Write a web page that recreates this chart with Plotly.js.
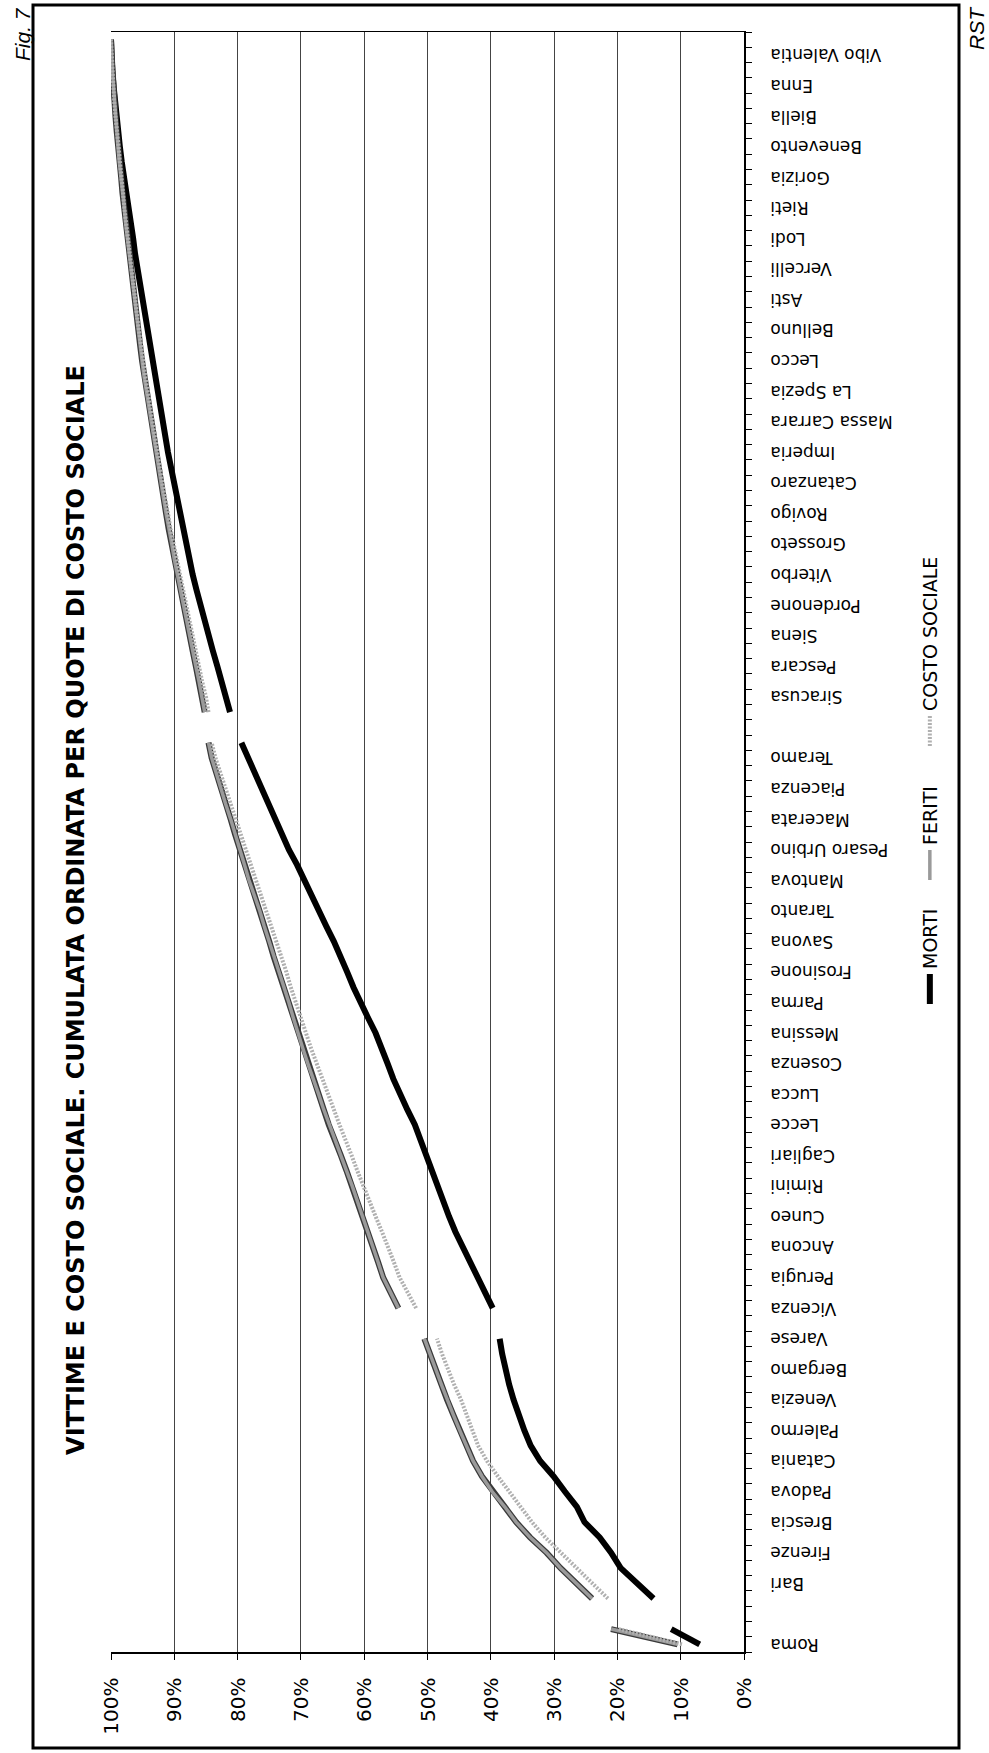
<!DOCTYPE html>
<html>
<head>
<meta charset="utf-8">
<script src="https://cdn.plot.ly/plotly-3.0.1.min.js"></script>
<style>
  html, body { margin:0; padding:0; background:#fff; overflow:hidden; }
  #wrap { position:absolute; left:0; top:0; width:1753px; height:989px;
          transform-origin:0 0; transform: translate(0px, 1753px) rotate(-90deg); }
  #chart { width:1753px; height:989px; }
</style>
</head>
<body>
<div id="wrap"><div id="chart"></div></div>
<script>
// Category labels shown on the axis (every other province, '' = blank row)
const shownLabels = ["Roma","","Bari","Firenze","Brescia","Padova","Catania","Palermo","Venezia","Bergamo",
  "Varese","Vicenza","Perugia","Ancona","Cuneo","Rimini","Cagliari","Lecce","Lucca","Cosenza",
  "Messina","Parma","Frosinone","Savona","Taranto","Mantova","Pesaro Urbino","Macerata","Piacenza","Teramo",
  "","Siracusa","Pescara","Siena","Pordenone","Viterbo","Grosseto","Rovigo","Catanzaro","Imperia",
  "Massa Carrara","La Spezia","Lecco","Belluno","Asti","Vercelli","Lodi","Rieti","Gorizia","Benevento",
  "Biella","Enna","Vibo Valentia"];

// Cumulative shares (%) per category position (null = break in the lines)
const morti = [7.0,11.5,null,14.3,17.0,19.5,21.0,22.8,25.2,26.4,
  28.3,30.1,32.2,33.7,34.7,35.6,36.4,37.1,37.7,38.2,
  38.6,null,39.7,40.9,42.2,43.4,44.5,45.6,46.6,47.5,
  48.3,49.4,50.3,51.1,52.0,53.2,54.4,55.4,56.3,57.2,
  58.2,59.4,60.6,61.7,62.7,63.7,64.8,66.0,67.1,68.2,
  69.3,70.6,71.9,73.0,74.0,75.1,76.2,77.2,78.3,79.4,
  null,81.2,81.8,82.5,83.2,83.9,84.6,85.3,85.9,86.5,
  87.1,87.6,88.1,88.7,89.2,89.6,90.0,90.5,91.0,91.4,
  91.8,92.3,92.7,93.2,93.6,94.0,94.4,94.8,95.1,95.5,
  95.8,96.2,96.5,96.9,97.2,97.6,97.9,98.3,98.6,98.9,
  99.2,99.4,99.6,99.8,99.9,100.0];

const feriti = [10.5,21.0,null,24.0,26.6,29.0,31.2,33.8,36.0,37.8,
  39.8,41.4,42.8,43.9,44.9,45.9,46.9,47.8,48.7,49.6,
  50.5,null,54.6,55.8,57.0,57.8,58.6,59.4,60.2,61.0,
  61.9,62.8,63.7,64.7,65.6,66.4,67.2,68.1,68.9,69.7,
  70.5,71.2,71.9,72.7,73.5,74.3,75.0,75.8,76.5,77.4,
  78.2,78.9,79.6,80.4,81.1,81.9,82.6,83.4,84.1,84.6,
  null,85.2,85.6,86.1,86.6,87.1,87.6,88.1,88.6,89.0,
  89.5,90.0,90.4,90.9,91.3,91.7,92.1,92.5,92.9,93.3,
  93.7,94.0,94.4,94.8,95.1,95.4,95.7,96.0,96.3,96.6,
  96.9,97.2,97.4,97.7,97.9,98.2,98.4,98.7,98.9,99.1,
  99.3,99.5,99.6,99.8,99.9,100.0];

const costo = [9.8,19.8,null,21.5,24.0,26.5,29.0,31.4,33.5,35.4,
  37.1,38.9,40.6,42.0,42.9,43.9,44.7,45.8,46.8,47.7,
  48.5,null,51.8,53.1,54.4,55.3,56.2,57.2,58.2,59.2,
  60.2,61.1,62.0,63.0,63.9,64.8,65.7,66.7,67.6,68.4,
  69.2,70.0,70.9,71.6,72.3,73.1,73.8,74.6,75.4,76.2,
  77.0,77.8,78.7,79.5,80.3,81.1,81.8,82.7,83.5,84.1,
  null,84.6,85.0,85.6,86.1,86.7,87.2,87.7,88.2,88.7,
  89.2,89.7,90.1,90.6,91.0,91.5,91.9,92.3,92.7,93.1,
  93.5,93.9,94.2,94.6,94.9,95.3,95.6,95.9,96.2,96.5,
  96.8,97.1,97.4,97.6,97.9,98.1,98.4,98.6,98.8,99.1,
  99.3,99.5,99.6,99.8,99.9,100.0];

const seriesNames = ["MORTI","FERITI","COSTO SOCIALE"];
const yTickVals = [0,10,20,30,40,50,60,70,80,90,100];
const yTickText = ["0%","10%","20%","30%","40%","50%","60%","70%","80%","90%","100%"];

const idx = morti.map((_, i) => i);
const labelVals = shownLabels.map((_, i) => 2 * i);

const W = 1753, H = 989;
const L = 101, R = 32, T = 111, B = 245;
const pw = W - L - R, ph = H - T - B;
const px = v => (v - L) / pw;
const py = v => 1 - (v - T) / ph;

const traces = [
  {x: idx, y: morti, type: 'scatter', mode: 'lines', name: seriesNames[0], legend: 'legend',
   line: {color: '#000000', width: 6}, connectgaps: false},
  {x: idx, y: feriti, type: 'scatter', mode: 'lines', name: seriesNames[1], showlegend: false,
   line: {color: '#3a3a3a', width: 6}, connectgaps: false, hoverinfo: 'skip'},
  {x: idx, y: feriti, type: 'scatter', mode: 'lines', name: seriesNames[1], legend: 'legend2',
   line: {color: '#9a9a9a', width: 3.5}, connectgaps: false},
  {x: idx, y: costo, type: 'scatter', mode: 'lines', name: seriesNames[2], legend: 'legend3',
   line: {color: '#b0b0b0', width: 4, dash: '2px,1.5px'}, connectgaps: false}
];

const font = 'DejaVu Sans, Arial, sans-serif';
const legendBase = {orientation: 'h', xanchor: 'left', y: py(930), yanchor: 'middle',
  font: {family: font, size: 19, color: '#000'}, bgcolor: 'rgba(0,0,0,0)', itemwidth: 30};

const layout = {
  width: W, height: H,
  margin: {l: L, r: R, t: T, b: B, pad: 0},
  paper_bgcolor: '#ffffff', plot_bgcolor: '#ffffff',
  font: {family: font, color: '#000', size: 16},
  title: {text: '<b>VITTIME E COSTO SOCIALE. CUMULATA ORDINATA PER QUOTE DI COSTO SOCIALE</b>',
          font: {family: font, size: 24, color: '#000'},
          xref: 'paper', x: px(843), xanchor: 'center',
          yref: 'container', y: 1 - 76 / H, yanchor: 'middle'},
  xaxis: {
    type: 'linear', range: [-0.5, 105.5],
    tickmode: 'array', tickvals: labelVals, ticktext: shownLabels,
    tickangle: -90, ticks: 'outside', ticklen: 6, tickcolor: 'rgba(0,0,0,0)',
    ticklabelstandoff: 12,
    tickfont: {family: font, size: 17, color: '#000'},
    minor: {tickmode: 'linear', tick0: -0.5, dtick: 1, ticks: 'outside', ticklen: 6,
            tickcolor: '#000', tickwidth: 1, showgrid: false},
    showline: true, linecolor: '#000', linewidth: 1.5,
    showgrid: false, zeroline: false, fixedrange: true
  },
  yaxis: {
    range: [0, 100], tickmode: 'array', tickvals: yTickVals, ticktext: yTickText,
    ticks: 'outside', ticklen: 6, tickcolor: '#000',
    ticklabelstandoff: 14,
    tickfont: {family: font, size: 20, color: '#000'},
    showgrid: true, gridcolor: '#444444', gridwidth: 1,
    showline: true, linecolor: '#000', linewidth: 1.5, mirror: true,
    zeroline: false, fixedrange: true
  },
  legend: Object.assign({}, legendBase, {x: px(744)}),
  legend2: Object.assign({}, legendBase, {x: px(868)}),
  legend3: Object.assign({}, legendBase, {x: px(1002)}),
  shapes: [
    {type: 'rect', xref: 'paper', yref: 'paper',
     x0: px(5), x1: px(1748), y0: py(959), y1: py(33),
     line: {color: '#000', width: 3}, fillcolor: 'rgba(0,0,0,0)', layer: 'below'}
  ],
  annotations: [
    {text: '<i>Fig. 7</i>', xref: 'paper', yref: 'paper', x: px(1690), y: py(23),
     xanchor: 'left', yanchor: 'middle', showarrow: false,
     font: {family: 'Liberation Sans, Arial, sans-serif', size: 21, color: '#000'}},
    {text: '<i>RST</i>', xref: 'paper', yref: 'paper', x: px(1701), y: py(976),
     xanchor: 'left', yanchor: 'middle', showarrow: false,
     font: {family: 'Liberation Sans, Arial, sans-serif', size: 21, color: '#000'}}
  ],
  showlegend: true
};

Plotly.newPlot('chart', traces, layout, {staticPlot: true, displayModeBar: false});
</script>
</body>
</html>
